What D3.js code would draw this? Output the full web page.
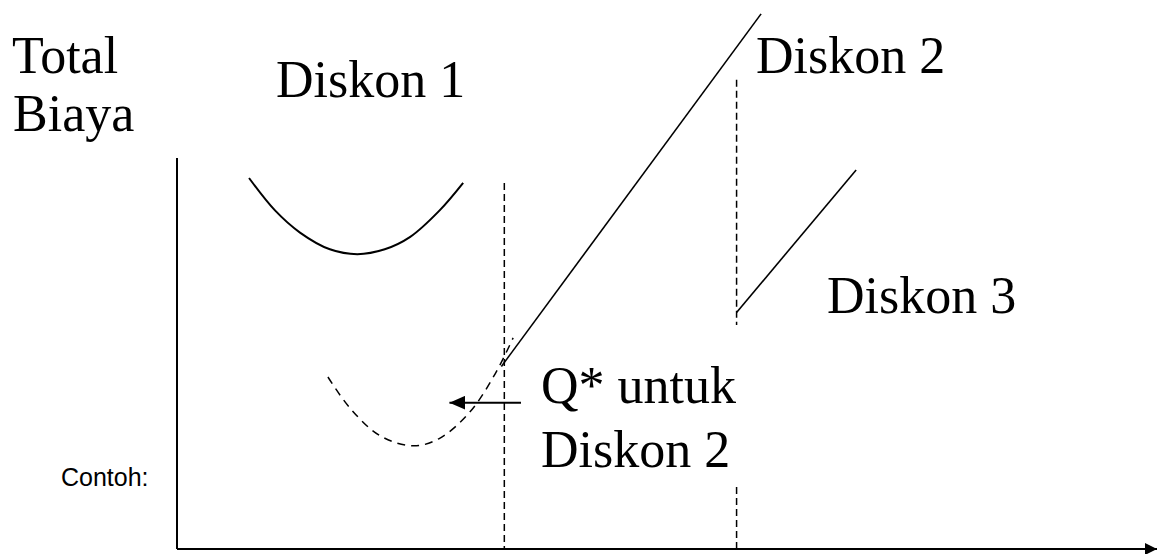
<!DOCTYPE html>
<html>
<head>
<meta charset="utf-8">
<script src="https://cdn.jsdelivr.net/npm/d3@7"></script>
<style>
  html, body { margin: 0; padding: 0; background: #fff; }
  svg { display: block; }
</style>
</head>
<body>
<svg id="chart" width="1157" height="554"></svg>
<script>
// ---------- data (conceptual units: Q = quantity 0..100, C = total cost 0..100) ----------
const axisQ = [0, 100];
const axisC = [0, 72.4];

// Diskon 1 total-cost curve (solid)
const diskon1Q = [7.35, 10.0, 12.55, 15.6, 18.4, 21.2, 23.8, 26.8, 29.2];
const diskon1C = [68.7, 62.7, 58.6, 55.5, 54.6, 55.5, 57.8, 62.7, 67.8];

// Diskon 2 total-cost curve below its feasible range (dashed)
const diskon2DashQ = [15.4, 17.65, 20.7, 24.1, 26.8, 29.9, 32.45, 34.3];
const diskon2DashC = [31.85, 26.1, 21.0, 19.1, 20.5, 25.4, 32.4, 39.1];

// Diskon 2 feasible segment (solid line)
const diskon2Q = [33.1, 59.6];
const diskon2C = [33.8, 99.1];

// Diskon 3 feasible segment (solid line)
const diskon3Q = [57.1, 69.3];
const diskon3C = [43.8, 70.2];

// Price-break boundaries (dashed verticals)
const breakQ = [33.4, 57.1];
const break1C = [0, 67.8];
const break2UpperC = [41.5, 86.9];
const break2LowerC = [0, 11.5];

// Arrow pointing to Q* for Diskon 2
const arrowQ = [35.1, 27.8];
const arrowC = [27.1, 27.1];

// Text labels
const yTitle = ["Total", "Biaya"];
const curveLabels = ["Diskon 1", "Diskon 2", "Diskon 3"];
const qLabel = ["Q* untuk", "Diskon 2"];
const noteLabel = "Contoh:";

// ---------- scales ----------
const x = d3.scaleLinear().domain([0, 100]).range([177, 1157]);
const y = d3.scaleLinear().domain([0, 100]).range([549, 9]);

const svg = d3.select("#chart");
const defs = svg.append("defs");

defs.append("marker")
  .attr("id", "axisArrow")
  .attr("viewBox", "0 -6 12 12")
  .attr("refX", 12).attr("refY", 0)
  .attr("markerWidth", 12).attr("markerHeight", 12)
  .attr("markerUnits", "userSpaceOnUse")
  .attr("orient", "auto")
  .append("path").attr("d", "M0,-6L12,0L0,6Z").attr("fill", "#000");

defs.append("marker")
  .attr("id", "ptrArrow")
  .attr("viewBox", "0 -7 16 14")
  .attr("refX", 16).attr("refY", 0)
  .attr("markerWidth", 16).attr("markerHeight", 14)
  .attr("markerUnits", "userSpaceOnUse")
  .attr("orient", "auto")
  .append("path").attr("d", "M0,-7L16,0L0,7Z").attr("fill", "#000");

const line = d3.line().x(d => x(d[0])).y(d => y(d[1]));
const smooth = d3.line().x(d => x(d[0])).y(d => y(d[1])).curve(d3.curveCatmullRom.alpha(0.5));
const zip = (a, b) => a.map((v, i) => [v, b[i]]);

// axes
svg.append("path")
  .attr("d", line([[axisQ[0], axisC[1]], [axisQ[0], axisC[0]]]))
  .attr("stroke", "#000").attr("stroke-width", 2).attr("fill", "none");
svg.append("path")
  .attr("d", line([[axisQ[0], axisC[0]], [axisQ[1], axisC[0]]]))
  .attr("stroke", "#000").attr("stroke-width", 2).attr("fill", "none")
  .attr("marker-end", "url(#axisArrow)");

// dashed verticals
const dashStyle = sel => sel.attr("stroke", "#000").attr("stroke-width", 1.5)
  .attr("stroke-dasharray", "7,4").attr("fill", "none");
svg.append("path").attr("d", line([[breakQ[0], break1C[1]], [breakQ[0], break1C[0]]])).call(dashStyle);
svg.append("path").attr("d", line([[breakQ[1], break2UpperC[1]], [breakQ[1], break2UpperC[0]]])).call(dashStyle);
svg.append("path").attr("d", line([[breakQ[1], break2LowerC[1]], [breakQ[1], break2LowerC[0]]])).call(dashStyle);

// Diskon 1 curve
svg.append("path").attr("d", smooth(zip(diskon1Q, diskon1C)))
  .attr("stroke", "#000").attr("stroke-width", 2).attr("fill", "none");

// Diskon 2 dashed curve
svg.append("path").attr("d", smooth(zip(diskon2DashQ, diskon2DashC)))
  .attr("stroke", "#000").attr("stroke-width", 1.5).attr("fill", "none")
  .attr("stroke-dasharray", "8,6");

// Diskon 2 line
svg.append("path").attr("d", line(zip(diskon2Q, diskon2C)))
  .attr("stroke", "#000").attr("stroke-width", 1.6).attr("fill", "none");

// Diskon 3 line
svg.append("path").attr("d", line(zip(diskon3Q, diskon3C)))
  .attr("stroke", "#000").attr("stroke-width", 1.6).attr("fill", "none");

// pointer arrow
svg.append("path").attr("d", line(zip(arrowQ, arrowC)))
  .attr("stroke", "#000").attr("stroke-width", 2).attr("fill", "none")
  .attr("marker-end", "url(#ptrArrow)");

// text
const serif = sel => sel.attr("font-family", "'Liberation Serif', 'Times New Roman', 'DejaVu Serif', serif")
  .attr("font-size", 52).attr("fill", "#000");

svg.append("text").attr("x", 12).attr("y", 73).text(yTitle[0]).call(serif);
svg.append("text").attr("x", 13).attr("y", 131).text(yTitle[1]).call(serif);
svg.append("text").attr("x", 276).attr("y", 97).text(curveLabels[0]).call(serif);
svg.append("text").attr("x", 756).attr("y", 73).text(curveLabels[1]).call(serif);
svg.append("text").attr("x", 827).attr("y", 313).text(curveLabels[2]).call(serif);
svg.append("text").attr("x", 541).attr("y", 403).text(qLabel[0]).call(serif);
svg.append("text").attr("x", 541).attr("y", 467).text(qLabel[1]).call(serif);

svg.append("text").attr("x", 61).attr("y", 486).text(noteLabel)
  .attr("font-family", "'Liberation Sans', Arial, sans-serif")
  .attr("font-size", 25).attr("fill", "#000");
</script>
</body>
</html>
